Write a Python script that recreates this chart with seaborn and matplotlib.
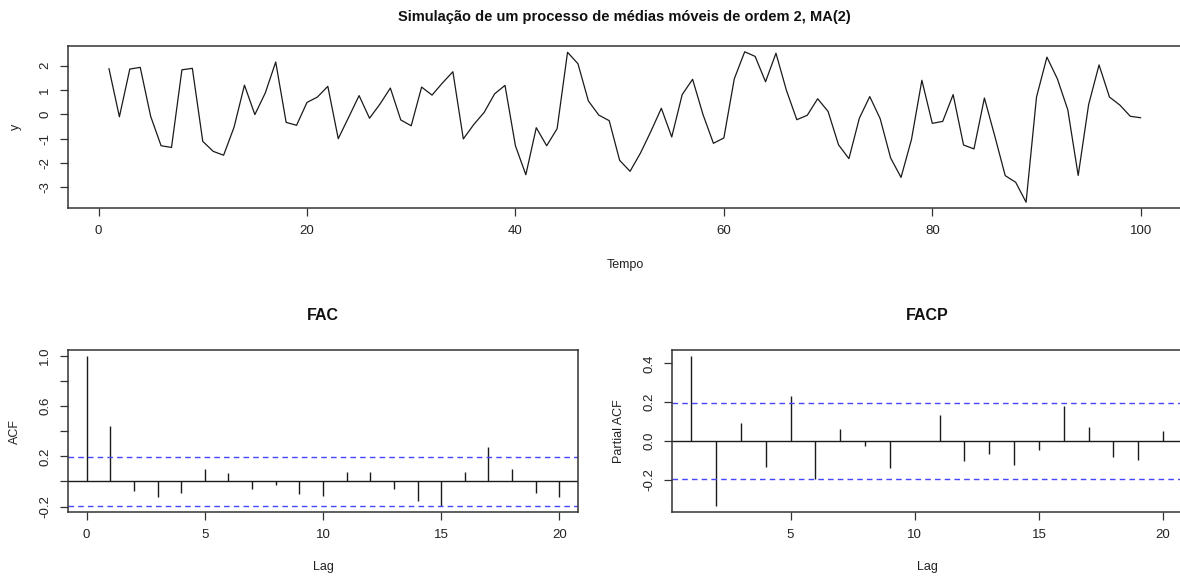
import numpy as np
import pandas as pd
import matplotlib
matplotlib.use("Agg")
import matplotlib.pyplot as plt
import seaborn as sns

# ---------------- data ----------------
tempo = np.arange(1, 101)
serie_y = [1.88, -0.10, 1.86, 1.93, -0.08, -1.29, -1.36, 1.83, 1.89, -1.11,
           -1.52, -1.68, -0.53, 1.20, -0.01, 0.88, 2.15, -0.33, -0.45, 0.49,
           0.71, 1.15, -1.00, -0.12, 0.77, -0.16, 0.42, 1.08, -0.23, -0.47,
           1.12, 0.79, 1.29, 1.75, -1.01, -0.42, 0.08, 0.84, 1.19, -1.29,
           -2.48, -0.55, -1.29, -0.59, 2.55, 2.08, 0.55, -0.03, -0.26, -1.89,
           -2.34, -1.59, -0.70, 0.25, -0.93, 0.81, 1.44, -0.01, -1.19, -0.97,
           1.46, 2.57, 2.38, 1.34, 2.51, 0.99, -0.22, -0.04, 0.64, 0.12,
           -1.25, -1.82, -0.16, 0.73, -0.18, -1.79, -2.59, -1.04, 1.40, -0.37,
           -0.29, 0.81, -1.26, -1.42, 0.67, -0.90, -2.52, -2.79, -3.61, 0.71,
           2.35, 1.46, 0.19, -2.51, 0.40, 2.03, 0.71, 0.38, -0.08, -0.14]

acf_lags = list(range(0, 21))
acf_vals = [1.0, 0.44, -0.079, -0.124, -0.095, 0.098, 0.066, -0.058, -0.029, -0.103,
            -0.119, 0.079, 0.074, -0.058, -0.158, -0.198, 0.074, 0.272, 0.103, -0.095,
            -0.127]

pacf_lags = list(range(1, 21))
pacf_vals = [0.438, -0.335, 0.095, -0.131, 0.233, -0.194, 0.065, -0.025, -0.136, 0.003,
             0.133, -0.102, -0.068, -0.122, -0.048, 0.182, 0.075, -0.083, -0.097, 0.051]

ci_limit = 0.196

titulo = "Simulação de um processo de médias móveis de ordem 2, MA(2)"

# ---------------- style ----------------
sns.set_theme(style="ticks")
plt.rcParams['font.family'] = ['Liberation Sans', 'DejaVu Sans']
plt.rcParams['axes.unicode_minus'] = False

fig = plt.figure(figsize=(11.8, 5.76), dpi=100)
W, H = 1180, 576

def add_ax(l, r, t, b):
    return fig.add_axes([l / W, 1 - b / H, (r - l) / W, (b - t) / H])

ax_top = add_ax(67.7, 1182, 45.7, 208.3)
ax_acf = add_ax(67.7, 578.3, 350, 512.3)
ax_pacf = add_ax(672.3, 1182, 350, 512.3)

tick_col = "#222222"
spine_col = "#333333"
for ax in (ax_top, ax_acf, ax_pacf):
    for s in ax.spines.values():
        s.set_visible(True)
        s.set_color(spine_col)
        s.set_linewidth(1.1)
    ax.tick_params(axis='both', length=6, width=0.9, color=spine_col,
                   labelsize=9.5, labelcolor=tick_col, pad=6)
    ax.grid(False)

dash_col = "#4646ff"

# ---------------- top: time series ----------------
df = pd.DataFrame({"Tempo": tempo, "y": serie_y})
sns.lineplot(data=df, x="Tempo", y="y", ax=ax_top, color="#1a1a1a", linewidth=0.9)
ax_top.set_xlim(-2.96, 103.96)
ax_top.set_ylim(-3.86, 2.82)
ax_top.set_xticks([0, 20, 40, 60, 80, 100])
ax_top.set_yticks([-3, -2, -1, 0, 1, 2])
ax_top.set_xlabel("Tempo", fontsize=9, color=tick_col)
ax_top.set_ylabel("y", fontsize=9, color=tick_col)
ax_top.xaxis.set_label_coords(0.5, -0.31)
ax_top.yaxis.set_label_coords(-0.041, 0.5)
ax_top.set_title(titulo, fontsize=10.5, fontweight='bold', pad=17.5, color="#111111")

# ---------------- ACF ----------------
acf_df = pd.DataFrame({"Lag": acf_lags, "ACF": acf_vals})
ax_acf.vlines(acf_df["Lag"], 0, acf_df["ACF"], color="#1a1a1a", linewidth=1.0)
ax_acf.axhline(0, color="#1a1a1a", linewidth=1.0)
for c in (ci_limit, -ci_limit):
    ax_acf.axhline(c, color=dash_col, linewidth=1.0, linestyle=(0, (4, 3)))
ax_acf.set_xlim(-0.8, 20.8)
ax_acf.set_ylim(-0.246, 1.048)
ax_acf.set_xticks([0, 5, 10, 15, 20])
ax_acf.set_yticks([-0.2, 0.0, 0.2, 0.4, 0.6, 0.8, 1.0])
ax_acf.set_yticklabels(["-0.2", "", "0.2", "", "0.6", "", "1.0"])
ax_acf.set_xlabel("Lag", fontsize=9, color=tick_col)
ax_acf.set_ylabel("ACF", fontsize=9, color=tick_col)
ax_acf.xaxis.set_label_coords(0.5, -0.30)
ax_acf.yaxis.set_label_coords(-0.092, 0.5)
ax_acf.set_title("FAC", fontsize=11.5, fontweight='bold', pad=21.5, color="#111111")

# ---------------- PACF ----------------
pacf_df = pd.DataFrame({"Lag": pacf_lags, "PACF": pacf_vals})
ax_pacf.vlines(pacf_df["Lag"], 0, pacf_df["PACF"], color="#1a1a1a", linewidth=1.0)
ax_pacf.axhline(0, color="#1a1a1a", linewidth=1.0)
for c in (ci_limit, -ci_limit):
    ax_pacf.axhline(c, color=dash_col, linewidth=1.0, linestyle=(0, (4, 3)))
ax_pacf.set_xlim(0.24, 20.76)
ax_pacf.set_ylim(-0.366, 0.469)
ax_pacf.set_xticks([5, 10, 15, 20])
ax_pacf.set_yticks([-0.2, 0.0, 0.2, 0.4])
ax_pacf.set_yticklabels(["-0.2", "0.0", "0.2", "0.4"])
ax_pacf.set_xlabel("Lag", fontsize=9, color=tick_col)
ax_pacf.set_ylabel("Partial ACF", fontsize=9, color=tick_col)
ax_pacf.xaxis.set_label_coords(0.5, -0.30)
ax_pacf.yaxis.set_label_coords(-0.092, 0.5)
ax_pacf.set_title("FACP", fontsize=11.5, fontweight='bold', pad=21.5, color="#111111")

for ax in (ax_top, ax_acf, ax_pacf):
    for lab in ax.get_yticklabels():
        lab.set_va('center')
        lab.set_rotation(90)

fig.savefig("out.png", dpi=100, facecolor="white")
